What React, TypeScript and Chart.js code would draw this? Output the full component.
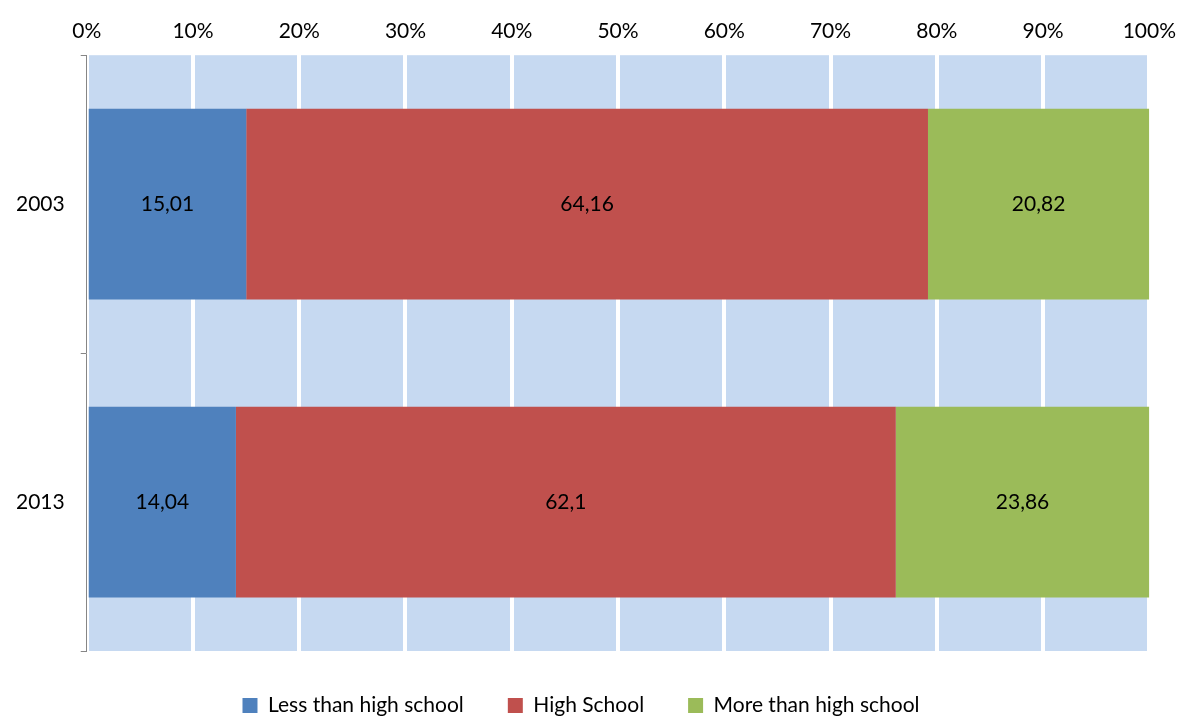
import { useEffect, useRef } from "react";
import { Chart, registerables, type Plugin } from "chart.js";

Chart.register(...registerables);

const years = ["2003", "2013"];
const lessThanHigh = [15.01, 14.04];
const highSchool = [64.16, 62.1];
const moreThanHigh = [20.82, 23.86];
const labelsLess = ["15,01", "14,04"];
const labelsHigh = ["64,16", "62,1"];
const labelsMore = ["20,82", "23,86"];

const FONT = "Lato, 'Open Sans', sans-serif";

const plotBackground: Plugin = {
  id: "plotBackground",
  beforeDraw(chart) {
    const { ctx, chartArea: a } = chart;
    ctx.save();
    ctx.fillStyle = "#C6D9F1";
    ctx.fillRect(a.left, a.top, a.right - a.left, a.bottom - a.top);
    ctx.restore();
  },
};

const barLabels: Plugin = {
  id: "barLabels",
  afterDatasetsDraw(chart) {
    const { ctx } = chart;
    const all = [labelsLess, labelsHigh, labelsMore];
    ctx.save();
    ctx.font = `21px ${FONT}`;
    ctx.fillStyle = "#000";
    ctx.textAlign = "center";
    ctx.textBaseline = "middle";
    chart.data.datasets.forEach((_, di) => {
      chart.getDatasetMeta(di).data.forEach((el: any, i) => {
        ctx.fillText(all[di][i], (el.x + el.base) / 2, el.y);
      });
    });
    ctx.restore();
  },
};

export default function App() {
  const canvasRef = useRef<HTMLCanvasElement>(null);

  useEffect(() => {
    if (!canvasRef.current) return;
    const chart = new Chart(canvasRef.current, {
      type: "bar",
      data: {
        labels: years,
        datasets: [
          { label: "Less than high school", data: lessThanHigh, backgroundColor: "#4F81BD" },
          { label: "High School", data: highSchool, backgroundColor: "#C0504D" },
          { label: "More than high school", data: moreThanHigh, backgroundColor: "#9BBB59" },
        ],
      },
      options: {
        indexAxis: "y",
        responsive: false,
        animation: false,
        datasets: { bar: { barPercentage: 0.64, categoryPercentage: 1 } },
        layout: { padding: { left: 0, right: 25, top: 8, bottom: -6 } },
        plugins: {
          legend: {
            position: "bottom",
            labels: {
              boxWidth: 15,
              boxHeight: 15,
              padding: 44,
              color: "#000",
              font: { size: 21, family: FONT },
            },
          },
          tooltip: { enabled: false },
        },
        scales: {
          x: {
            position: "top",
            stacked: true,
            min: 0,
            max: 100,
            ticks: {
              stepSize: 10,
              color: "#000",
              font: { size: 21, family: FONT },
              callback: (v) => v + "%",
              padding: 11,
            },
            grid: { color: "#FFFFFF", lineWidth: 4, drawTicks: false },
            border: { display: false },
          },
          y: {
            stacked: true,
            ticks: { color: "#000", font: { size: 21, family: FONT }, padding: 16 },
            grid: { drawOnChartArea: false, color: "#868686", tickLength: 6 },
            border: { color: "#868686", width: 1 },
          },
        },
      },
      plugins: [plotBackground, barLabels],
    });
    return () => chart.destroy();
  }, []);

  return (
    <div style={{ position: "absolute", left: 0, top: 0, width: 1187, height: 720, background: "#fff" }}>
      <canvas ref={canvasRef} width={1187} height={720} />
    </div>
  );
}
